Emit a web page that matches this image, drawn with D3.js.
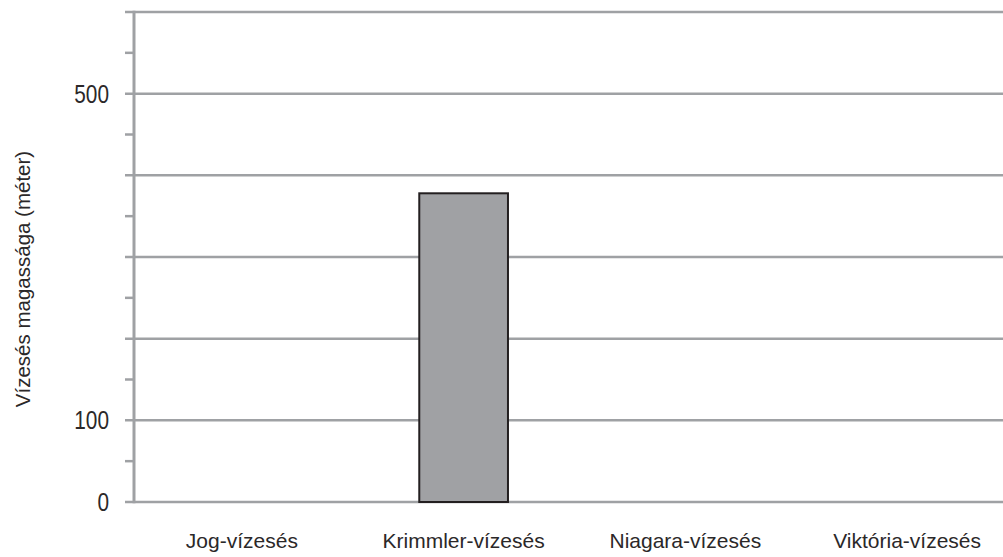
<!DOCTYPE html>
<html>
<head>
<meta charset="utf-8">
<script src="https://cdn.jsdelivr.net/npm/d3@7"></script>
<style>
  html, body { margin: 0; padding: 0; background: #fff; }
  svg { display: block; }
</style>
</head>
<body>
<svg id="chart" width="1003" height="557"></svg>
<script>
const categories = ["Jog-vízesés", "Krimmler-vízesés", "Niagara-vízesés", "Viktória-vízesés"];
const heights = [null, 378, null, null];
const majorTicks = [0, 100, 200, 300, 400, 500, 600];
const minorTicks = [50, 150, 250, 350, 450, 550];
const tickLabels = [0, 100, 500];
const yTitle = "Vízesés magassága (méter)";

const svg = d3.select("#chart");
const gridColor = "#9fa1a4";
const textColor = "#2b2829";

const y = d3.scaleLinear().domain([0, 600]).range([502, 12]);
const x = d3.scaleBand().domain(categories).range([131, 1018]).paddingInner(0.6).paddingOuter(0.3);

// horizontal grid lines (including top line and baseline)
svg.append("g").selectAll("line").data(majorTicks).join("line")
  .attr("x1", 125).attr("x2", 1003)
  .attr("y1", d => y(d)).attr("y2", d => y(d))
  .attr("stroke", gridColor).attr("stroke-width", 2.5);

// minor ticks
svg.append("g").selectAll("line").data(minorTicks).join("line")
  .attr("x1", 125).attr("x2", 134)
  .attr("y1", d => y(d)).attr("y2", d => y(d))
  .attr("stroke", gridColor).attr("stroke-width", 2.5);

// y axis line
svg.append("line")
  .attr("x1", 134).attr("x2", 134)
  .attr("y1", y(600) - 1.25).attr("y2", y(0) + 1.25)
  .attr("stroke", gridColor).attr("stroke-width", 3);

// bars
svg.append("g").selectAll("rect").data(categories.map((c, i) => ({c, v: heights[i]})).filter(d => d.v != null)).join("rect")
  .attr("x", d => x(d.c))
  .attr("width", x.bandwidth())
  .attr("y", d => y(d.v))
  .attr("height", d => y(0) - y(d.v))
  .attr("fill", "#a0a1a4")
  .attr("stroke", "#231f20").attr("stroke-width", 2);

// y tick labels
svg.append("g").selectAll("text").data(tickLabels).join("text")
  .attr("transform", d => `translate(109,${y(d)}) scale(0.8,1)`)
  .attr("text-anchor", "end")
  .attr("dominant-baseline", "central")
  .attr("font-family", "'Liberation Sans', Arial, sans-serif")
  .attr("font-size", 26)
  .attr("fill", textColor)
  .text(d => d);

// x category labels
svg.append("g").selectAll("text").data(categories).join("text")
  .attr("x", d => x(d) + x.bandwidth() / 2)
  .attr("y", 548)
  .attr("text-anchor", "middle")
  .attr("font-family", "'Liberation Sans', Arial, sans-serif")
  .attr("font-size", 21)
  .attr("fill", textColor)
  .text(d => d);

// y title
svg.append("text")
  .attr("transform", "translate(22,279) rotate(-90)")
  .attr("text-anchor", "middle")
  .attr("dominant-baseline", "central")
  .attr("font-family", "'Liberation Sans', Arial, sans-serif")
  .attr("font-size", 20.5)
  .attr("fill", textColor)
  .text(yTitle);
</script>
</body>
</html>
